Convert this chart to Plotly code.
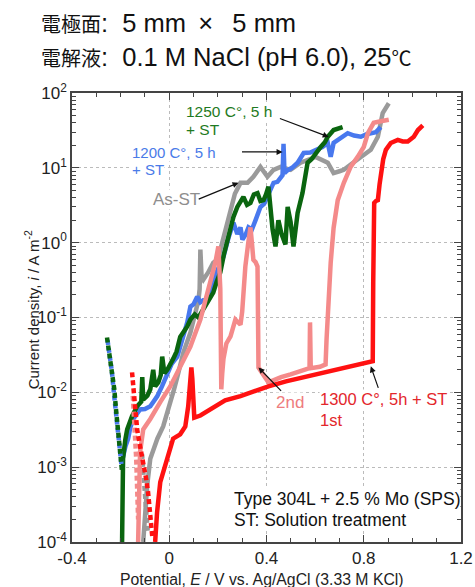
import plotly.graph_objects as go

# ---------------- data (E in V vs Ag/AgCl, i in A m^-2) ----------------
green_cat_E = [-0.256, -0.246, -0.235, -0.226, -0.219, -0.212, -0.206, -0.199, -0.194]
green_cat_i = [0.054, 0.034, 0.020, 0.011, 0.0059, 0.0037, 0.0024, 0.0013, 0.00086]
blue_cat_E = [-0.254, -0.245, -0.236, -0.228, -0.221, -0.214, -0.207, -0.200, -0.197]
blue_cat_i = [0.050, 0.032, 0.019, 0.010, 0.0058, 0.0036, 0.0023, 0.0015, 0.0011]
gray_cat_E = [-0.112, -0.100, -0.088]
gray_cat_i = [0.0015, 0.00045, 0.00013]
red_cat_E = [-0.153, -0.145, -0.132, -0.120, -0.107, -0.095, -0.087, -0.078, -0.070]
red_cat_i = [0.0185, 0.009, 0.0032, 0.0019, 0.0012, 0.0007, 0.00046, 0.00025, 0.00012]
pink_cat_E = [-0.150, -0.143, -0.136, -0.128]
pink_cat_i = [0.009, 0.0035, 0.0013, 0.0002]

green_E = [-0.194, -0.191, -0.190, -0.181, -0.173, -0.153, -0.132, -0.115, -0.111, -0.107,
           -0.090, -0.078, -0.066, -0.058, -0.045, -0.035, -0.029, -0.020, -0.008, 0.016,
           0.030, 0.045, 0.074, 0.087, 0.105, 0.120, 0.140, 0.160, 0.181, 0.195,
           0.210, 0.225, 0.239, 0.252, 0.264, 0.280, 0.293, 0.305, 0.320, 0.334,
           0.348, 0.363, 0.375, 0.388, 0.398, 0.408, 0.416, 0.425, 0.437, 0.449,
           0.462, 0.478, 0.487, 0.499, 0.511, 0.528, 0.548, 0.569, 0.585, 0.602,
           0.623, 0.640, 0.652, 0.676, 0.695, 0.713]
green_i = [1.0e-4, 4e-4, 1.3e-3, 2.3e-3, 3.2e-3, 4.8e-3, 6.5e-3, 7.5e-3, 0.016, 8e-3,
           9e-3, 0.011, 0.020, 0.012, 0.0136, 0.017, 0.030, 0.018, 0.020, 0.028,
           0.035, 0.055, 0.076, 0.094, 0.11, 0.10, 0.128, 0.16, 0.215, 0.30,
           0.40, 0.7, 1.1, 1.6, 2.2, 3.0, 3.6, 4.1, 3.2, 3.4,
           4.4, 4.6, 3.6, 3.7, 4.4, 5.6, 3.0, 1.5, 0.89, 2.0,
           1.3, 0.95, 3.0, 1.9, 0.89, 2.5, 4.6, 11.7, 13, 15.8,
           19, 22, 26, 32, 33, 35]

blue_E = [-0.197, -0.190, -0.180, -0.169, -0.160, -0.148, -0.135, -0.120, -0.100, -0.078,
          -0.065, -0.049, -0.030, -0.008, 0.010, 0.033, 0.050, 0.074, 0.087, 0.100,
          0.115, 0.128, 0.140, 0.157, 0.181, 0.200, 0.223, 0.245, 0.264, 0.280,
          0.293, 0.301, 0.315, 0.326, 0.340, 0.355, 0.375, 0.390, 0.404, 0.429,
          0.445, 0.458, 0.466, 0.470, 0.474, 0.487, 0.505, 0.528, 0.553, 0.580,
          0.610, 0.630, 0.652, 0.664, 0.676, 0.700, 0.734, 0.760, 0.788, 0.810,
          0.829, 0.850, 0.870]
blue_i = [1.1e-3, 1.4e-3, 1.9e-3, 2.4e-3, 3.4e-3, 4.4e-3, 5.0e-3, 5.9e-3, 6.0e-3, 6.5e-3,
          7.5e-3, 8.9e-3, 0.012, 0.0185, 0.024, 0.030, 0.045, 0.086, 0.14, 0.15,
          0.19, 0.16, 0.17, 0.17, 0.32, 0.45, 0.65, 1.2, 1.85, 1.3,
          1.6, 1.1, 1.3, 1.6, 1.5, 2.0, 3.0, 3.3, 4.1, 6.3,
          6.5, 7.6, 8.0, 21, 8.5, 9.3, 10, 11.7, 15.8, 16,
          17.4, 19, 21.5, 14, 21.5, 24, 29, 27, 26, 28,
          29, 30, 35]

gray_E = [-0.107, -0.100, -0.091, -0.078, -0.065, -0.049, -0.025, -0.010, 0.004, 0.020,
          0.033, 0.058, 0.087, 0.105, 0.120, 0.125, 0.128, 0.133, 0.140, 0.160,
          0.181, 0.200, 0.210, 0.230, 0.252, 0.270, 0.293, 0.322, 0.346, 0.375,
          0.404, 0.429, 0.458, 0.499, 0.540, 0.570, 0.602, 0.652, 0.676, 0.700,
          0.718, 0.745, 0.775, 0.829, 0.858, 0.878, 0.903]
gray_i = [1.0e-4, 2.5e-4, 5.6e-4, 1.3e-3, 1.8e-3, 2.4e-3, 3.5e-3, 5.0e-3, 7.4e-3, 0.011,
          0.016, 0.034, 0.063, 0.11, 0.17, 0.24, 0.81, 0.35, 0.32, 0.40,
          0.54, 0.6, 0.81, 1.5, 3.0, 4.5, 6.3, 6.3, 7.6, 10.3,
          7.6, 9.4, 10.3, 9.4, 11.7, 13, 14, 11.7, 8.5, 9.0,
          9.4, 11, 12.8, 17.4, 26, 54, 73]

red_E = [-0.058, -0.050, -0.037, -0.020, -0.008, 0.016, 0.045, 0.066, 0.078, 0.085,
         0.091, 0.095, 0.099, 0.103, 0.128, 0.169, 0.230, 0.293, 0.350, 0.408,
         0.480, 0.548, 0.620, 0.685, 0.760, 0.837, 0.839, 0.841, 0.843, 0.850,
         0.858, 0.865, 0.870, 0.880, 0.891, 0.911, 0.940, 0.960, 0.981, 1.006,
         1.023, 1.043]
red_i = [1.0e-4, 2.5e-4, 6.3e-4, 1.0e-3, 1.4e-3, 2.4e-3, 2.75e-3, 3.5e-3, 6.5e-3, 0.015,
         0.0215, 0.015, 8e-3, 4.6e-3, 4.9e-3, 5.9e-3, 7.8e-3, 8.9e-3, 0.0105, 0.012,
         0.014, 0.0158, 0.018, 0.020, 0.023, 0.026, 0.3, 1.5, 3.4, 3.6,
         3.7, 6.0, 8.6, 13, 17.4, 21.5, 23.6, 22.5, 22.5, 26,
         32, 37]

pink_E = [-0.128, -0.126, -0.120, -0.107, -0.078, -0.037, 0.004, 0.045, 0.087, 0.128,
          0.169, 0.190, 0.202, 0.207, 0.210, 0.212, 0.214, 0.218, 0.223, 0.235,
          0.252, 0.272, 0.293, 0.300, 0.313, 0.325, 0.334, 0.340, 0.346, 0.355,
          0.363, 0.366, 0.367, 0.408, 0.460, 0.499, 0.577, 0.579, 0.582, 0.620,
          0.643, 0.647, 0.655, 0.664, 0.676, 0.693, 0.718, 0.746, 0.775, 0.800,
          0.817, 0.841, 0.870, 0.903]
pink_i = [1.0e-4, 2.0e-4, 1.6e-3, 3.2e-3, 4.4e-3, 7.4e-3, 0.012, 0.022, 0.041, 0.094,
          0.29, 0.55, 0.89, 0.5, 0.24, 0.051, 0.011, 0.018, 0.028, 0.045,
          0.056, 0.094, 0.08, 0.12, 0.48, 1.0, 1.6, 1.0, 0.59, 0.55,
          0.48, 0.051, 0.0215, 0.0136, 0.016, 0.0174, 0.021, 0.086, 0.021, 0.022,
          0.0236, 0.051, 0.2, 0.54, 1.58, 3.7, 6.3, 10.3, 14, 19,
          29, 40, 42, 44]

x_tick_vals = [-0.4, 0, 0.4, 0.8, 1.2]
x_tick_text = ["-0.4", "0", "0.4", "0.8", "1.2"]
y_tick_vals = [1e-4, 1e-3, 1e-2, 1e-1, 1e0, 1e1, 1e2]
y_tick_text = ["10<sup>-4</sup>", "10<sup>-3</sup>", "10<sup>-2</sup>", "10<sup>-1</sup>",
               "10<sup>0</sup>", "10<sup>1</sup>", "10<sup>2</sup>"]

# ---------------- styles ----------------
FONT = "Liberation Sans, Arial, Noto Sans CJK JP, sans-serif"
C_GREEN = "#0a650f"
C_BLUE = "#4878ee"
C_GRAY = "#9a9a9a"
C_RED = "#ff1111"
C_PINK = "#f48a8a"
DASH = "5px,3px"
LW = 4.5

fig = go.Figure()


def add(E, i, color, dash="solid"):
    fig.add_trace(go.Scatter(x=E, y=i, mode="lines",
                             line=dict(color=color, width=LW, dash=dash),
                             showlegend=False, hoverinfo="skip"))


add(gray_cat_E, gray_cat_i, C_GRAY, DASH)
add(gray_E, gray_i, C_GRAY)
add(blue_E, blue_i, C_BLUE)
add(green_E, green_i, C_GREEN)
add(blue_cat_E, blue_cat_i, C_BLUE, DASH)
add(green_cat_E, green_cat_i, C_GREEN, DASH)
add(pink_cat_E, pink_cat_i, C_PINK, DASH)
add(pink_E, pink_i, C_PINK)
add(red_cat_E, red_cat_i, C_RED, DASH)
add(red_E, red_i, C_RED)

minor_y = [m * 10 ** k for k in range(-4, 2) for m in range(2, 10)]

fig.update_layout(
    width=475, height=587,
    margin=dict(l=72, r=14, t=93, b=45),
    plot_bgcolor="white", paper_bgcolor="white",
    font=dict(family=FONT, color="#222"),
    showlegend=False,
)
fig.update_xaxes(
    automargin=False,
    range=[-0.4, 1.2], tickmode="array", tickvals=x_tick_vals, ticktext=x_tick_text,
    ticks="inside", ticklen=7, tickwidth=1, tickcolor="#444",
    minor=dict(dtick=0.1, tick0=0, ticks="inside", ticklen=4, tickcolor="#444", showgrid=False),
    showline=True, linecolor="#444", linewidth=1.5, mirror="ticks",
    showgrid=True, gridcolor="#bbbbbb", griddash="dot", gridwidth=1, zeroline=False,
    tickfont=dict(size=17, color="#222"),
)
fig.update_yaxes(
    automargin=False,
    type="log", range=[-4, 2], tickmode="array", tickvals=y_tick_vals, ticktext=y_tick_text,
    ticks="inside", ticklen=7, tickwidth=1, tickcolor="#444",
    minor=dict(tickmode="array", tickvals=minor_y, ticks="inside", ticklen=4,
               tickcolor="#444", showgrid=False),
    showline=True, linecolor="#444", linewidth=1.5, mirror="ticks",
    showgrid=True, gridcolor="#bbbbbb", griddash="dot", gridwidth=1, zeroline=False,
    tickfont=dict(size=17, color="#222"),
)

# axis titles
fig.add_annotation(xref="paper", yref="paper", x=0.488, y=-0.0846, xanchor="center", yanchor="middle",
                   text="Potential, <i>E</i> / V vs. Ag/AgCl (3.33 M KCl)", showarrow=False,
                   font=dict(size=15.8, color="#222"))
fig.add_annotation(xref="paper", yref="paper", x=-0.103, y=0.518, xanchor="center", yanchor="middle",
                   textangle=-90, text="Current density, <i>i</i> / A m<sup>-2</sup>", showarrow=False,
                   font=dict(size=15, color="#222"))

# title lines
cjk = '<span style="font-size:20px">{}</span>'
fig.add_annotation(xref="paper", yref="paper", x=-0.085, y=1.157, xanchor="left", yanchor="middle",
                   text=cjk.format("電極面") + ":\u00a0 5 mm\u00a0\u2009×\u00a0\u2009 5 mm", showarrow=False,
                   font=dict(size=25.5, color="#111"))
fig.add_annotation(xref="paper", yref="paper", x=-0.085, y=1.080, xanchor="left", yanchor="middle",
                   text=cjk.format("電解液") + ":\u00a0 0.1 M NaCl (pH 6.0), 25" + cjk.format("℃"),
                   showarrow=False, font=dict(size=25.5, color="#111"))


def label(x, ylog, text, color, size):
    fig.add_annotation(xref="x", yref="y", x=x, y=ylog, xanchor="left", yanchor="middle",
                       align="left", text=text, showarrow=False, bgcolor="white", borderpad=0,
                       font=dict(size=size, color=color))


def arrow(x0, y0, x1, y1):
    fig.add_annotation(xref="x", yref="y", axref="x", ayref="y", x=x1, y=y1, ax=x0, ay=y0,
                       text="", showarrow=True, arrowhead=2, arrowsize=1, arrowwidth=1.2,
                       arrowcolor="#111", standoff=0, startstandoff=0)


label(0.066, 1.747, "1250 C°, 5 h", "#1f7a22", 15.5)
label(0.066, 1.507, "+ ST", "#1f7a22", 15.5)
arrow(0.449, 1.667, 0.656, 1.413)
label(-0.157, 1.200, "1200 C°, 5 h", "#4a7be8", 15)
label(-0.157, 0.973, "+ ST", "#4a7be8", 15)
arrow(0.293, 1.213, 0.466, 1.213)
label(-0.070, 0.573, "As-ST", "#8e8e8e", 17)
arrow(0.115, 0.573, 0.285, 0.80)
label(0.433, -2.133, "2nd", "#ee7c7e", 17)
arrow(0.466, -2.0, 0.367, -1.667)
label(0.614, -2.093, "1300 C°, 5h + ST", "#e3262b", 16.5)
label(0.614, -2.373, "1st", "#e3262b", 16.5)
arrow(0.862, -1.96, 0.829, -1.653)
label(0.264, -3.427, "Type 304L + 2.5 % Mo (SPS)", "#111", 17.5)
label(0.264, -3.707, "ST: Solution treatment", "#111", 17.5)

fig.write_html("out.html", config={"displayModeBar": False},
               post_script="document.body.style.margin='0px';document.body.style.overflow='hidden';")
